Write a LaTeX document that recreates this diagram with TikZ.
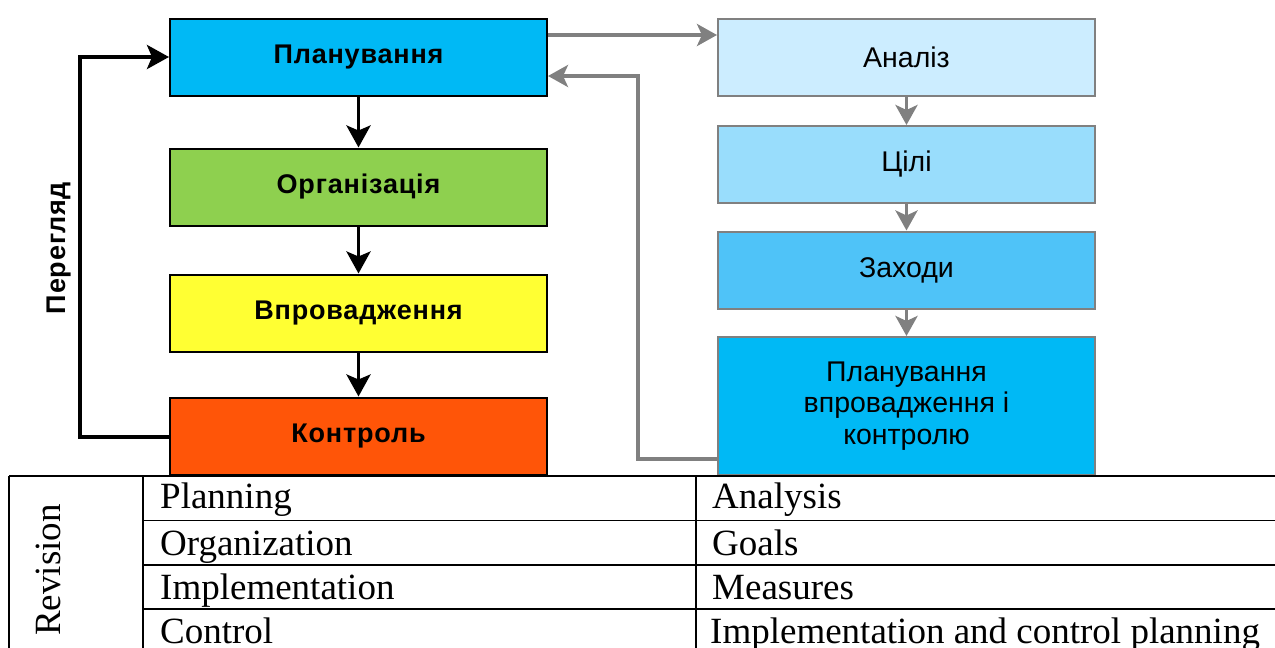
\documentclass[tikz,border=0pt]{standalone}
\usepackage{fontspec}
\setmainfont{Liberation Serif}
\newfontfamily\arial{Liberation Sans}
\newfontfamily\arialsp[LetterSpace=3]{Liberation Sans}
\usetikzlibrary{arrows.meta}
\definecolor{cplan}{HTML}{00B9F5}
\definecolor{corg}{HTML}{8ED04F}
\definecolor{cimpl}{HTML}{FFFF33}
\definecolor{cctrl}{HTML}{FF5508}
\definecolor{can}{HTML}{CCEDFF}
\definecolor{cgoal}{HTML}{99DDFC}
\definecolor{cmeas}{HTML}{4FC3F8}
\definecolor{cgray}{HTML}{808080}
\tikzset{
  lbox/.style={draw=black, line width=2pt, minimum width=377pt, minimum height=77pt, inner sep=0pt,
    font=\arialsp\bfseries\fontsize{27}{30}\selectfont},
  rbox/.style={draw=cgray, line width=2pt, minimum width=377pt, minimum height=77pt, inner sep=0pt,
    font=\arial\fontsize{28.5}{31.5}\selectfont, align=center},
  blk/.style={draw=black, line width=3.8pt, -{Stealth[length=22pt,width=24pt,inset=5pt]}},
  gry/.style={draw=cgray, line width=3.8pt, -{Stealth[length=20pt,width=22pt,inset=5pt]}},
  tline/.style={draw=black, line width=1.6pt},
  ttext/.style={anchor=base west, font=\fontsize{37}{40}\selectfont, inner sep=0pt}
}
\begin{document}
\begin{tikzpicture}[x=1pt,y=-1pt]
\useasboundingbox (0,0) rectangle (1275,648);
% left column
\node[lbox, fill=cplan] (plan) at (358.5,57) {Планування};
\node[lbox, fill=corg] (org) at (358.5,187) {Організація};
\node[lbox, fill=cimpl] (impl) at (358.5,313) {Впровадження};
\node[lbox, fill=cctrl] (ctrl) at (358.5,436) {Контроль};
% right column
\node[rbox, fill=can] (an) at (906.5,57) {Аналіз};
\node[rbox, fill=cgoal] (goal) at (906.5,164.5) {Цілі};
\node[rbox, fill=cmeas] (meas) at (906.5,270) {Заходи};
\node[rbox, fill=cplan, minimum height=138pt] (ipc) at (906.5,406) {Планування\\впровадження і\\контролю};
% black arrows
\draw[blk] (plan) -- (org);
\draw[blk] (org) -- (impl);
\draw[blk] (impl) -- (ctrl);
\coordinate (fb) at (80,437);
\draw[blk] (ctrl.west |- fb) -- (fb) |- (plan.west);
\node[rotate=90, anchor=base, font=\arialsp\bfseries\fontsize{27}{30}\selectfont, inner sep=0pt] (rev) at (65,248) {Перегляд};
% gray arrows
\draw[gry] (an) -- (goal);
\draw[gry] (goal) -- (meas);
\draw[gry] (meas) -- (ipc);
\coordinate (t1) at (0,35);
\draw[gry] (plan.east |- t1) -- (an.west |- t1);
\coordinate (rb) at (638,459);
\coordinate (r2) at (0,76);
\draw[gry] (ipc.west |- rb) -- (rb) |- (plan.east |- r2);
% table
\draw[tline] (9,476) -- (1275,476);
\draw[tline] (143,520.5) -- (1275,520.5);
\draw[tline] (143,565) -- (1275,565);
\draw[tline] (143,609) -- (1275,609);
\draw[tline] (9,476) -- (9,648);
\draw[tline] (143,476) -- (143,648);
\draw[tline] (696,476) -- (696,648);
\node[rotate=90, anchor=base, font=\fontsize{37}{40}\selectfont, inner sep=0pt] (revis) at (60,570) {Revision};
\node[ttext] (p1) at (160,508) {Planning};
\node[ttext] (p2) at (160,555) {Organization};
\node[ttext] (p3) at (160,599) {Implementation};
\node[ttext] (p4) at (160,643) {Control};
\node[ttext] (q1) at (712,508) {Analysis};
\node[ttext] (q2) at (712,555) {Goals};
\node[ttext] (q3) at (712,599) {Measures};
\node[ttext] (q4) at (710,643) {Implementation and control planning};
\end{tikzpicture}
\end{document}
